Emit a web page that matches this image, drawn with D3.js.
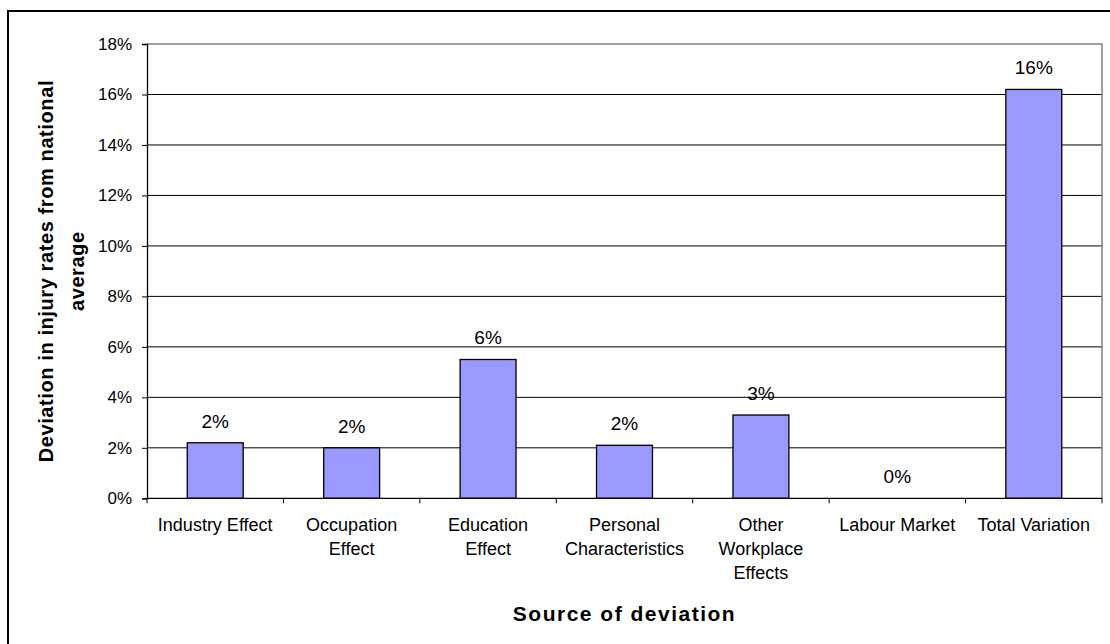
<!DOCTYPE html>
<html>
<head>
<meta charset="utf-8">
<script src="https://cdn.jsdelivr.net/npm/d3@7/dist/d3.min.js"></script>
<style>
  html, body { margin: 0; padding: 0; background: #fff; }
  svg { display: block; font-family: Arial, "Liberation Sans", sans-serif; }
</style>
</head>
<body>
<svg id="chart" width="1110" height="644"></svg>
<script>
// Sources of deviation in injury rates (percent)
const categories = [
  "Industry Effect",
  "Occupation Effect",
  "Education Effect",
  "Personal Characteristics",
  "Other Workplace Effects",
  "Labour Market",
  "Total Variation"
];
const deviation = [2.2, 2.0, 5.5, 2.1, 3.3, 0, 16.2];
const yTicks = [0, 2, 4, 6, 8, 10, 12, 14, 16, 18];
const yTitleLines = ["Deviation in injury rates from national", "average"];
const xTitle = "Source of deviation";

const svg = d3.select("#chart");
const plot = { left: 147, right: 1102, top: 44, bottom: 498.3 };

// outer frame
svg.append("rect")
  .attr("x", 8).attr("y", 11)
  .attr("width", 1110).attr("height", 640)
  .attr("fill", "#fff").attr("stroke", "#000").attr("stroke-width", 2);

const x = d3.scaleBand()
  .domain(categories)
  .range([plot.left, plot.right])
  .paddingInner(0.59)
  .paddingOuter(0.295);

const y = d3.scaleLinear()
  .domain([0, 18])
  .range([plot.bottom, plot.top]);

// gridlines
svg.append("g")
  .selectAll("line")
  .data(yTicks.filter(t => t > 0 && t < 18))
  .join("line")
  .attr("x1", plot.left).attr("x2", plot.right)
  .attr("y1", d => y(d)).attr("y2", d => y(d))
  .attr("stroke", "#000").attr("stroke-width", 1);

// plot border (top and right)
svg.append("path")
  .attr("d", `M${plot.left},${y(18)}H${plot.right}V${plot.bottom}`)
  .attr("fill", "none").attr("stroke", "#808080").attr("stroke-width", 1.5);

// bars
svg.append("g")
  .selectAll("rect")
  .data(deviation)
  .join("rect")
  .attr("x", (d, i) => x(categories[i]))
  .attr("width", x.bandwidth())
  .attr("y", d => y(d))
  .attr("height", d => y(0) - y(d))
  .attr("fill", "#9999ff")
  .attr("stroke", "#000")
  .attr("stroke-width", d => d > 0 ? 1.3 : 0);

// value labels
svg.append("g")
  .selectAll("text")
  .data(deviation)
  .join("text")
  .attr("x", (d, i) => x(categories[i]) + x.bandwidth() / 2)
  .attr("y", d => y(d) - 15)
  .attr("text-anchor", "middle")
  .attr("font-size", 19)
  .attr("fill", "#000")
  .text(d => Math.round(d) + "%");

// y axis
const yAxis = d3.axisLeft(y)
  .tickValues(yTicks)
  .tickSize(5)
  .tickPadding(10)
  .tickFormat(d => d + "%");
const gy = svg.append("g")
  .attr("transform", `translate(${plot.left},0)`)
  .call(yAxis);
gy.select(".domain").attr("stroke", "#000").attr("stroke-width", 1.3);
gy.selectAll(".tick line").attr("stroke", "#000");
gy.selectAll(".tick text")
  .attr("font-size", 17)
  .attr("font-family", "Arial, 'Liberation Sans', sans-serif")
  .attr("fill", "#000");

// x axis: ticks sit on category boundaries
const step = x.step();
const boundaries = d3.range(categories.length + 1).map(i => plot.left + i * step);
svg.append("line")
  .attr("x1", plot.left).attr("x2", plot.right)
  .attr("y1", plot.bottom).attr("y2", plot.bottom)
  .attr("stroke", "#000").attr("stroke-width", 1.3);
svg.append("g")
  .selectAll("line")
  .data(boundaries)
  .join("line")
  .attr("x1", d => d).attr("x2", d => d)
  .attr("y1", plot.bottom).attr("y2", plot.bottom + 5)
  .attr("stroke", "#000");

// category labels, wrapped to fit the band
const wrapWidth = 126;
const catG = svg.append("g")
  .attr("font-size", 18)
  .attr("text-anchor", "middle")
  .attr("fill", "#000");
categories.forEach(cat => {
  const cx = x(cat) + x.bandwidth() / 2;
  const t = catG.append("text").attr("x", cx).attr("y", 530.7);
  const words = cat.split(" ");
  let lines = [];
  let line = [];
  const probe = catG.append("text").attr("visibility", "hidden");
  words.forEach(w => {
    const trial = line.concat([w]).join(" ");
    probe.text(trial);
    if (line.length && probe.node().getComputedTextLength() > wrapWidth) {
      lines.push(line.join(" "));
      line = [w];
    } else {
      line.push(w);
    }
  });
  lines.push(line.join(" "));
  probe.remove();
  lines.forEach((l, i) => {
    t.append("tspan").attr("x", cx).attr("dy", i === 0 ? 0 : 24.3).text(l);
  });
});

// axis titles
svg.append("text")
  .attr("x", (plot.left + plot.right) / 2)
  .attr("y", 621)
  .attr("text-anchor", "middle")
  .attr("font-size", 21)
  .attr("font-weight", "bold")
  .attr("letter-spacing", 1.5)
  .text(xTitle);

const yTitle = svg.append("text")
  .attr("transform", `translate(0,${(plot.top + plot.bottom) / 2}) rotate(-90)`)
  .attr("text-anchor", "middle")
  .attr("font-size", 20)
  .attr("font-weight", "bold")
  .attr("letter-spacing", 0.6);
yTitleLines.forEach((l, i) => {
  yTitle.append("tspan").attr("x", 0).attr("y", 53 + i * 31).text(l);
});
</script>
</body>
</html>
